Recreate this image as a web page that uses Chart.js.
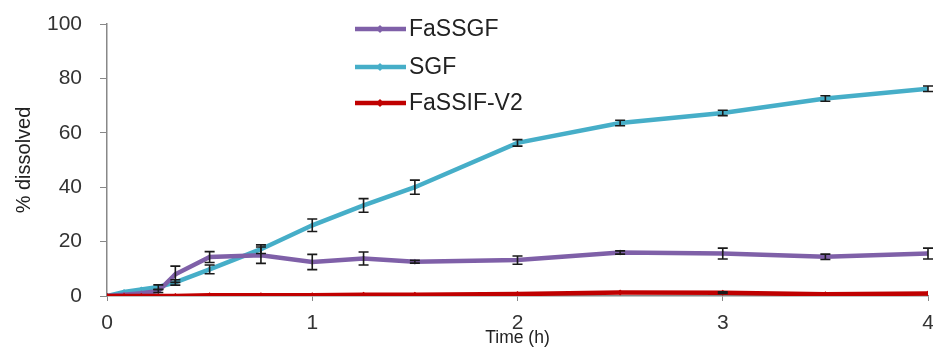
<!DOCTYPE html>
<html>
<head>
<meta charset="utf-8">
<script src="https://cdn.jsdelivr.net/npm/chart.js@4"></script>
<style>
  html, body { margin: 0; padding: 0; background: #fff; }
  #wrap { width: 933px; height: 349px; }
</style>
</head>
<body>
<div id="wrap"><canvas id="c" width="933" height="349"></canvas></div>
<script>
// sampling times (h)
const times = [0, 0.083, 0.167, 0.25, 0.333, 0.5, 0.75, 1, 1.25, 1.5, 2, 2.5, 3, 3.5, 4];

const fassgf = [0, 0.5, 1, 1.8, 8, 14.3, 15, 12.5, 13.8, 12.6, 13.2, 16, 15.6, 14.4, 15.6];
const fassgfErr = [0, 0, 0, 0.5, 3, 2, 3, 2.8, 2.4, 0.5, 1.5, 0.6, 2, 1, 2];

const sgf = [0, 1.5, 2.4, 3.3, 5, 9.8, 17.2, 26, 33.3, 40, 56.3, 63.6, 67.3, 72.6, 76.2];
const sgfErr = [0, 0, 0, 0.8, 1, 1.6, 1.6, 2.3, 2.5, 2.6, 1.2, 1, 1, 1, 1];

const fassif = [0, 0, 0, 0, 0, 0.3, 0.3, 0.3, 0.5, 0.5, 0.7, 1.3, 1.2, 0.6, 0.9];
const fassifErr = [0, 0, 0, 0, 0, 0, 0, 0, 0, 0, 0, 0, 0.3, 0, 0];

const seriesNames = ["FaSSGF", "SGF", "FaSSIF-V2"];
const xTicks = [0, 1, 2, 3, 4];
const yTicks = [0, 20, 40, 60, 80, 100];

const colors = ["#7f60a8", "#46aec8", "#c00000"];

const toXY = (vals) => vals.map((v, i) => ({ x: times[i], y: v }));

const errorBars = {
  id: "errorBars",
  afterDatasetsDraw(chart) {
    const { ctx, scales } = chart;
    const errs = [fassgfErr, sgfErr, fassifErr];
    ctx.save();
    ctx.strokeStyle = "#1a1a1a";
    ctx.lineWidth = 1.6;
    chart.data.datasets.forEach((ds, d) => {
      ds.data.forEach((p, i) => {
        const e = errs[d][i];
        if (!e) return;
        const x = scales.x.getPixelForValue(p.x);
        const y1 = scales.y.getPixelForValue(p.y - e);
        const y2 = scales.y.getPixelForValue(p.y + e);
        ctx.beginPath();
        ctx.moveTo(x, y1); ctx.lineTo(x, y2);
        ctx.moveTo(x - 5, y1); ctx.lineTo(x + 5, y1);
        ctx.moveTo(x - 5, y2); ctx.lineTo(x + 5, y2);
        ctx.stroke();
      });
    });
    ctx.restore();
  },
};

// legend drawn inside the plot like the original
const innerLegend = {
  id: "innerLegend",
  afterDraw(chart) {
    const { ctx } = chart;
    const rows = [29, 67, 103];
    ctx.save();
    ctx.font = "23px 'Liberation Sans', Arial, sans-serif";
    ctx.textBaseline = "middle";
    chart.data.datasets.forEach((ds, i) => {
      const y = rows[i];
      ctx.strokeStyle = ds.borderColor;
      ctx.lineWidth = 4.5;
      ctx.beginPath();
      ctx.moveTo(355, y); ctx.lineTo(406, y);
      ctx.stroke();
      ctx.fillStyle = ds.borderColor;
      ctx.beginPath();
      ctx.moveTo(380, y - 4); ctx.lineTo(384, y); ctx.lineTo(380, y + 4); ctx.lineTo(376, y);
      ctx.fill();
      ctx.fillStyle = "#222";
      ctx.fillText(ds.label, 409, y + 1);
    });
    ctx.restore();
  },
};

const makeSet = (label, vals, i, order) => ({
  label,
  data: toXY(vals),
  borderColor: colors[i],
  backgroundColor: colors[i],
  borderWidth: 4.5,
  pointStyle: "rectRot",
  pointRadius: 3,
  pointBorderWidth: 0,
  tension: 0,
  order,
});

new Chart(document.getElementById("c"), {
  type: "line",
  data: {
    datasets: [
      makeSet(seriesNames[0], fassgf, 0, 1),
      makeSet(seriesNames[1], sgf, 1, 2),
      makeSet(seriesNames[2], fassif, 2, 0),
    ],
  },
  options: {
    responsive: false,
    animation: false,
    layout: { padding: { top: 24, right: 5, left: 0, bottom: 0 } },
    plugins: { legend: { display: false }, tooltip: { enabled: false } },
    scales: {
      x: {
        type: "linear",
        min: 0,
        max: 4,
        afterBuildTicks: (s) => { s.ticks = xTicks.map((v) => ({ value: v })); },
        afterFit: (s) => { s.height = 53; s.paddingRight = 0; s.paddingLeft = 0; },
        grid: { drawOnChartArea: false, tickLength: 5, color: "#888" },
        border: { color: "#888", width: 1.5 },
        ticks: { color: "#333", padding: 10, font: { family: "'Liberation Sans', Arial", size: 21 } },
        title: {
          display: true,
          text: "Time (h)",
          color: "#222",
          padding: { top: -12, bottom: 0 },
          font: { family: "'Liberation Sans', Arial", size: 17.5 },
        },
      },
      y: {
        min: 0,
        max: 100,
        afterBuildTicks: (s) => { s.ticks = yTicks.map((v) => ({ value: v })); },
        afterFit: (s) => { s.width = 107; s.paddingTop = 0; s.paddingBottom = 0; },
        grid: { drawOnChartArea: false, tickLength: 7, color: "#888" },
        border: { color: "#888", width: 1.5 },
        ticks: { color: "#333", padding: 18, font: { family: "'Liberation Sans', Arial", size: 21 } },
        title: {
          display: true,
          text: "% dissolved",
          color: "#222",
          padding: { top: 12, bottom: 0 },
          font: { family: "'Liberation Sans', Arial", size: 20 },
        },
      },
    },
  },
  plugins: [errorBars, innerLegend],
});
</script>
</body>
</html>
